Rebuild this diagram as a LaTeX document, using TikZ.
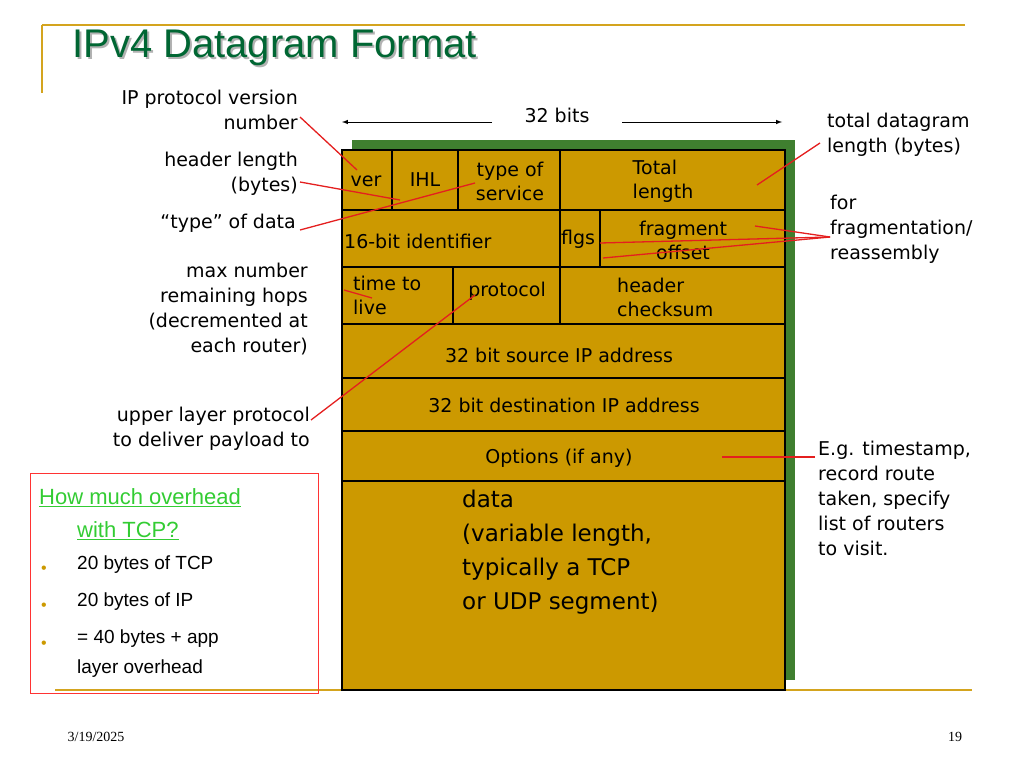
\documentclass[tikz,border=0pt]{standalone}
\usepackage{fontspec}
\setmainfont{DejaVu Sans}
\newfontfamily\arial{Liberation Sans}
\newfontfamily\tmsfont{Liberation Serif}
\definecolor{gold}{HTML}{CC9900}
\definecolor{shadowg}{HTML}{3F7F2F}
\definecolor{titleg}{HTML}{006633}
\definecolor{linkg}{HTML}{33CC33}
\definecolor{rline}{HTML}{E41F1F}
\definecolor{deco}{HTML}{D4A41E}
\tikzset{
 lbl/.style={font=\fontsize{19}{25}\selectfont, inner sep=0pt, align=right},
 fld/.style={font=\fontsize{19}{24}\selectfont, inner sep=0pt, align=left},
 rl/.style={rline, line width=1.3pt},
 cell/.style={draw=black, line width=1.2pt},
 lnk/.style={anchor=west, inner sep=0, font=\arial\fontsize{22}{22}\selectfont, text=linkg}
}
\begin{document}
\begin{tikzpicture}[x=1pt,y=-1pt]
\useasboundingbox (0,0) rectangle (1024,768);
% decorations
\draw[deco, line width=1.5pt] (42,25) -- (965,25);
\draw[deco, line width=1.5pt] (42,25) -- (42,93);
\draw[deco, line width=1.5pt] (55,690) -- (972,690);
\node[anchor=west, font=\arial\fontsize{40}{40}\selectfont, text=gray!60, inner sep=0] at (74,50) {IPv4 Datagram Format};
\node (title)[anchor=west, font=\arial\fontsize{40}{40}\selectfont, text=titleg, inner sep=0] at (72,48) {IPv4 Datagram Format};
% box
\fill[shadowg] (352,140) rectangle (795,680);
\fill[gold] (342,150) rectangle (785,690);
\draw[cell] (342,150) rectangle (785,690);
\foreach \y in {210,267,324,378,431,481} \draw[cell] (342,\y) -- (785,\y);
\draw[cell] (392,150) -- (392,210);
\draw[cell] (458,150) -- (458,210);
\draw[cell] (560,150) -- (560,267);
\draw[cell] (600,210) -- (600,267);
\draw[cell] (453,267) -- (453,324);
\draw[cell] (560,267) -- (560,324);
% fields
\node (ver)[fld] at (366,181) {ver};
\node (ihl)[fld] at (425,180) {IHL};
\node (tos)[fld, align=center] at (510,181) {type of\\service};
\node (tl)[fld] at (663,181) {Total\\length};
\node (id)[fld, anchor=west] at (344,241) {16-bit identifier};
\node (flgs)[fld] at (578,239) {flgs};
\node (fo)[fld, align=center] at (683,240) {fragment\\offset};
\node (ttl)[fld, anchor=west] at (353,295) {time to\\live};
\node (prot)[fld] at (507,291) {protocol};
\node (hc)[fld, anchor=west] at (617,297) {header\\checksum};
\node (src)[fld] at (559,355) {32 bit source IP address};
\node (dst)[fld] at (564,405) {32 bit destination IP address};
\node (opt)[fld] at (559,458) {Options (if any)};
\node (data)[fld, anchor=north west, font=\fontsize{23}{34}\selectfont] at (462,490) {data\\(variable length,\\typically a TCP\\or UDP segment)};
% 32 bits
\node (bits)[fld] at (557,115) {32 bits};
\coordinate (al) at (342,122); \coordinate (ar) at (782,122);
\coordinate (bl) at (492,122); \coordinate (br) at (622,122);
\draw[-latex, line width=1pt] (bl) -- (al);
\draw[-latex, line width=1pt] (br) -- (ar);
% left labels
\node (l1)[lbl, anchor=north east] at (298,90) {IP protocol version\\number};
\node (l2)[lbl, anchor=north east] at (298,152) {header length\\(bytes)};
\node (l3)[lbl, anchor=north east] at (296,214) {“type” of data};
\node (l4)[lbl, anchor=north east] at (308,263) {max number\\remaining hops\\(decremented at\\each router)};
\node (l5)[lbl, anchor=north east] at (310,407) {upper layer protocol\\to deliver payload to};
\node (r1)[lbl, anchor=north west, align=left] at (827,113) {total datagram\\length (bytes)};
\node (r2)[lbl, anchor=north west, align=left] at (830,195) {for\\fragmentation/\\reassembly};
\node (r3)[lbl, anchor=north west, align=left] at (818,441) {E.g. timestamp,\\record route\\taken, specify\\list of routers\\to visit.};
% red lines
\coordinate (p1) at (357,170); \coordinate (p2) at (400,200); \coordinate (p3) at (475,183);
\coordinate (p4) at (372,298); \coordinate (p5) at (475,295); \coordinate (p6) at (757,185);
\coordinate (p7) at (755,226); \coordinate (p8) at (600,243); \coordinate (p9) at (603,258);
\coordinate (p10) at (722,457);
\coordinate (q1) at (300,117); \coordinate (q2) at (300,182); \coordinate (q3) at (300,230);
\coordinate (q4) at (344,290); \coordinate (q5) at (311,420); \coordinate (q6) at (820,143);
\coordinate (q7) at (830,237); \coordinate (q10) at (815,457);
\draw[rl] (q1) -- (p1); \draw[rl] (q2) -- (p2); \draw[rl] (q3) -- (p3);
\draw[rl] (q4) -- (p4); \draw[rl] (q5) -- (p5); \draw[rl] (q6) -- (p6);
\draw[rl] (q7) -- (p7); \draw[rl] (q7) -- (p8); \draw[rl] (q7) -- (p9);
\draw[rl] (q10) -- (p10);
% red box
\draw[red!80, line width=0.8pt] (30,473) rectangle (318,693);
\node (ov1)[lnk] at (39,497) {How much overhead};
\node (ov2)[lnk] at (77,530) {with TCP?};
\draw[linkg, line width=1pt] ([yshift=-2pt]ov1.base west) -- ([yshift=-2pt]ov1.base east);
\draw[linkg, line width=1pt] ([yshift=-2pt]ov2.base west) -- ([yshift=-2pt]ov2.base east);
\node (b1)[anchor=north west, inner sep=0, align=left, font=\arial\fontsize{19}{30}\selectfont] at (77,556) {20 bytes of TCP\\[7pt]20 bytes of IP\\[7pt]= 40 bytes + app\\layer overhead};
\foreach \y in {570,607,645} \node[text=gold, font=\arial\fontsize{16}{16}\selectfont, inner sep=0] at (44,\y) {•};
% footer
\node (date)[font=\tmsfont\fontsize{14}{14}\selectfont, inner sep=0] at (96,737) {3/19/2025};
\node (pg)[font=\tmsfont\fontsize{14}{14}\selectfont, inner sep=0] at (955,737) {19};
\end{tikzpicture}
\end{document}
